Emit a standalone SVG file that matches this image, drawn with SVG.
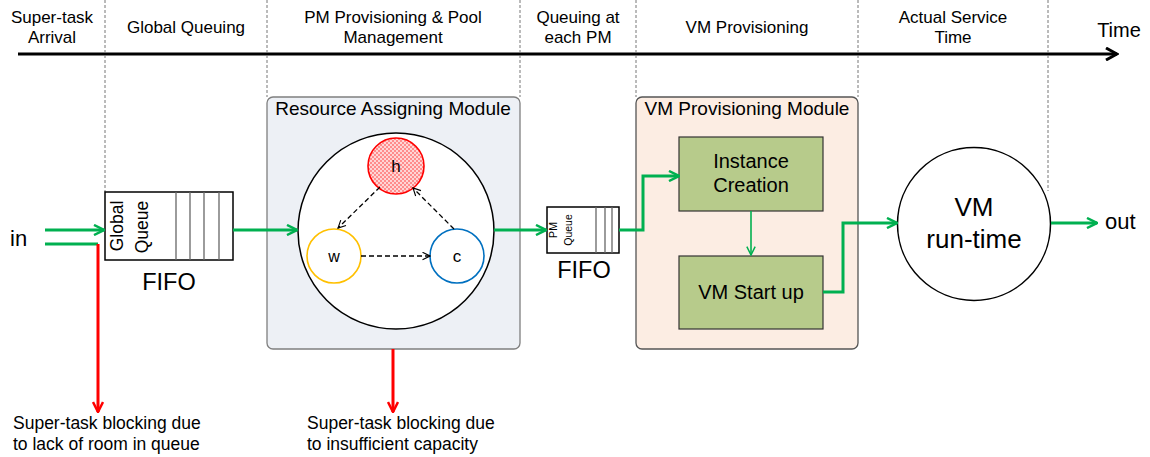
<svg xmlns="http://www.w3.org/2000/svg" width="1150" height="457" viewBox="0 0 1150 457">
<style>
text{font-family:"Liberation Sans",Arial,sans-serif;fill:#000}
.hdr{font-size:17px;text-anchor:middle}
.sep{stroke:#777;stroke-width:1;stroke-dasharray:3,2;fill:none}
.g{stroke:#00b050;stroke-width:3;fill:none}
.gt{stroke:#00b050;stroke-width:1.6;fill:none}
.r{stroke:#ff0000;stroke-width:3;fill:none}
.dash{stroke:#000;stroke-width:1.3;stroke-dasharray:5,3;fill:none}
.q{fill:#fff;stroke:#000;stroke-width:1.5}
.qd{stroke:#666;stroke-width:1.3}
.box{fill:#b7cb8b;stroke:#333;stroke-width:1.2}
.bt{font-size:17.5px}
</style>
<defs>
<marker id="ag" viewBox="0 0 12 12" refX="11" refY="6" markerWidth="12" markerHeight="12" markerUnits="userSpaceOnUse" orient="auto"><path d="M1,1 L11,6 L1,11" fill="none" stroke="#00b050" stroke-width="2.5"/></marker>
<marker id="agt" viewBox="0 0 12 12" refX="11" refY="6" markerWidth="10" markerHeight="10" markerUnits="userSpaceOnUse" orient="auto"><path d="M1,1 L11,6 L1,11" fill="none" stroke="#00b050" stroke-width="1.8"/></marker>
<marker id="ar" viewBox="0 0 12 12" refX="11" refY="6" markerWidth="12" markerHeight="12" markerUnits="userSpaceOnUse" orient="auto"><path d="M1,1 L11,6 L1,11" fill="none" stroke="#ff0000" stroke-width="2.5"/></marker>
<marker id="ak" viewBox="0 0 12 12" refX="11" refY="6" markerWidth="9" markerHeight="9" markerUnits="userSpaceOnUse" orient="auto"><path d="M1,1 L11,6 L1,11" fill="none" stroke="#000" stroke-width="1.5"/></marker>
<marker id="at" viewBox="0 0 14 14" refX="12" refY="7" markerWidth="14" markerHeight="14" markerUnits="userSpaceOnUse" orient="auto"><path d="M1,1 L12,7 L1,13" fill="none" stroke="#000" stroke-width="3"/></marker>
<pattern id="dots" width="4" height="4" patternUnits="userSpaceOnUse"><rect width="4" height="4" fill="#ffd6d6"/><circle cx="1" cy="1" r="0.8" fill="#ff3030"/><circle cx="3" cy="3" r="0.8" fill="#ff3030"/></pattern>
</defs>

<g id="timeline">
<line x1="18" y1="54" x2="1117" y2="54" stroke="#000" stroke-width="3" marker-end="url(#at)"/>
<text x="1119" y="37" style="font-size:20px" text-anchor="middle">Time</text>
<text class="hdr" x="52" y="23">Super-task</text>
<text class="hdr" x="52" y="43">Arrival</text>
<text class="hdr" x="186" y="33">Global Queuing</text>
<text class="hdr" x="393" y="23">PM Provisioning &amp; Pool</text>
<text class="hdr" x="393" y="43">Management</text>
<text class="hdr" x="578" y="23">Queuing at</text>
<text class="hdr" x="578" y="43">each PM</text>
<text class="hdr" x="747" y="33">VM Provisioning</text>
<text class="hdr" x="953" y="23">Actual Service</text>
<text class="hdr" x="953" y="43">Time</text>
<line class="sep" x1="105" y1="0" x2="105" y2="192"/>
<line class="sep" x1="267" y1="0" x2="267" y2="97"/>
<line class="sep" x1="520" y1="0" x2="520" y2="97"/>
<line class="sep" x1="636" y1="0" x2="636" y2="97"/>
<line class="sep" x1="858" y1="0" x2="858" y2="97"/>
<line class="sep" x1="1048" y1="0" x2="1048" y2="191"/>
</g>

<g id="ram-module">
<rect x="267" y="97" width="253" height="252" rx="6" fill="#edf0f5" stroke="#7f7f7f" stroke-width="1.3"/>
<text x="393" y="115" style="font-size:19px" text-anchor="middle">Resource Assigning Module</text>
<circle cx="396" cy="231" r="98" fill="#fff" stroke="#000" stroke-width="1.5"/>
</g>

<g id="vm-module">
<rect x="636" y="97" width="222" height="252" rx="6" fill="#fcede3" stroke="#555" stroke-width="1.3"/>
<text x="747" y="115" style="font-size:19px" text-anchor="middle">VM Provisioning Module</text>
</g>

<g id="global-queue">
<rect class="q" x="105" y="192" width="128" height="68"/>
<line class="qd" x1="176" y1="192" x2="176" y2="260"/>
<line class="qd" x1="190" y1="192" x2="190" y2="260"/>
<line class="qd" x1="204" y1="192" x2="204" y2="260"/>
<line class="qd" x1="219" y1="192" x2="219" y2="260"/>
<text transform="translate(123,226) rotate(-90)" style="font-size:17.5px" text-anchor="middle">Global</text>
<text transform="translate(148,227) rotate(-90)" style="font-size:17.5px" text-anchor="middle">Queue</text>
<text x="169" y="290" style="font-size:23.5px" text-anchor="middle">FIFO</text>
</g>

<g id="node-h">
<circle cx="396" cy="166" r="28" fill="url(#dots)" stroke="#ff0000" stroke-width="1.6"/>
<text x="396" y="172" style="font-size:17px" text-anchor="middle">h</text>
</g>
<g id="node-w">
<circle cx="334" cy="256" r="27" fill="#fff" stroke="#ffc000" stroke-width="1.6"/>
<text x="334" y="262" style="font-size:16px" text-anchor="middle">w</text>
</g>
<g id="node-c">
<circle cx="457" cy="256" r="27" fill="#fff" stroke="#0070c0" stroke-width="1.6"/>
<text x="457" y="262" style="font-size:17px" text-anchor="middle">c</text>
</g>

<g id="pm-queue">
<rect class="q" x="547" y="207" width="72" height="46"/>
<line class="qd" x1="596" y1="207" x2="596" y2="253"/>
<line class="qd" x1="605" y1="207" x2="605" y2="253"/>
<line class="qd" x1="612" y1="207" x2="612" y2="253"/>
<text transform="translate(557,230) rotate(-90)" style="font-size:10.5px" text-anchor="middle">PM</text>
<text transform="translate(572,230) rotate(-90)" style="font-size:10.5px" text-anchor="middle">Queue</text>
<text x="584" y="278" style="font-size:23.5px" text-anchor="middle">FIFO</text>
</g>

<g id="instance-creation">
<rect class="box" x="679" y="137" width="144" height="74"/>
<text x="751" y="168" style="font-size:20px" text-anchor="middle">Instance</text>
<text x="751" y="192" style="font-size:20px" text-anchor="middle">Creation</text>
</g>
<g id="vm-startup">
<rect class="box" x="679" y="256" width="144" height="73"/>
<text x="751" y="299" style="font-size:20px" text-anchor="middle">VM Start up</text>
</g>

<g id="vm-runtime">
<circle cx="974" cy="224" r="76.5" fill="#fff" stroke="#000" stroke-width="1.5"/>
<text x="974" y="216" style="font-size:26px" text-anchor="middle">VM</text>
<text x="974" y="248" style="font-size:26px" text-anchor="middle">run-time</text>
</g>

<g id="labels">
<text x="10" y="246" style="font-size:22px">in</text>
<text x="1105" y="229" style="font-size:22px">out</text>
<text class="bt" x="13" y="429">Super-task blocking due</text>
<text class="bt" x="13" y="450">to lack of room in queue</text>
<text class="bt" x="307" y="429">Super-task blocking due</text>
<text class="bt" x="307" y="450">to insufficient capacity</text>
</g>

<g id="connectors">
<line class="g" x1="45" y1="230" x2="104" y2="230" marker-end="url(#ag)"/>
<polyline class="g" points="45,244 98,244"/>
<line class="r" x1="98" y1="244" x2="98" y2="412" marker-end="url(#ar)"/>
<line class="g" x1="233" y1="230" x2="297" y2="230" marker-end="url(#ag)"/>
<line class="g" x1="494" y1="230" x2="546" y2="230" marker-end="url(#ag)"/>
<line class="r" x1="393" y1="349" x2="393" y2="412" marker-end="url(#ar)"/>
<line class="dash" x1="380" y1="187" x2="338" y2="228" marker-end="url(#ak)"/>
<line class="dash" x1="454" y1="229" x2="413" y2="188" marker-end="url(#ak)"/>
<line class="dash" x1="361" y1="256" x2="430" y2="256" marker-end="url(#ak)"/>
<polyline class="g" points="619,230 643,230 643,176 679,176" marker-end="url(#ag)"/>
<line class="gt" x1="751" y1="211" x2="751" y2="255" marker-end="url(#agt)"/>
<polyline class="g" points="823,292 843,292 843,223 897,223" marker-end="url(#ag)"/>
<line class="g" x1="1051" y1="223" x2="1097" y2="223" marker-end="url(#ag)"/>
</g>
</svg>
